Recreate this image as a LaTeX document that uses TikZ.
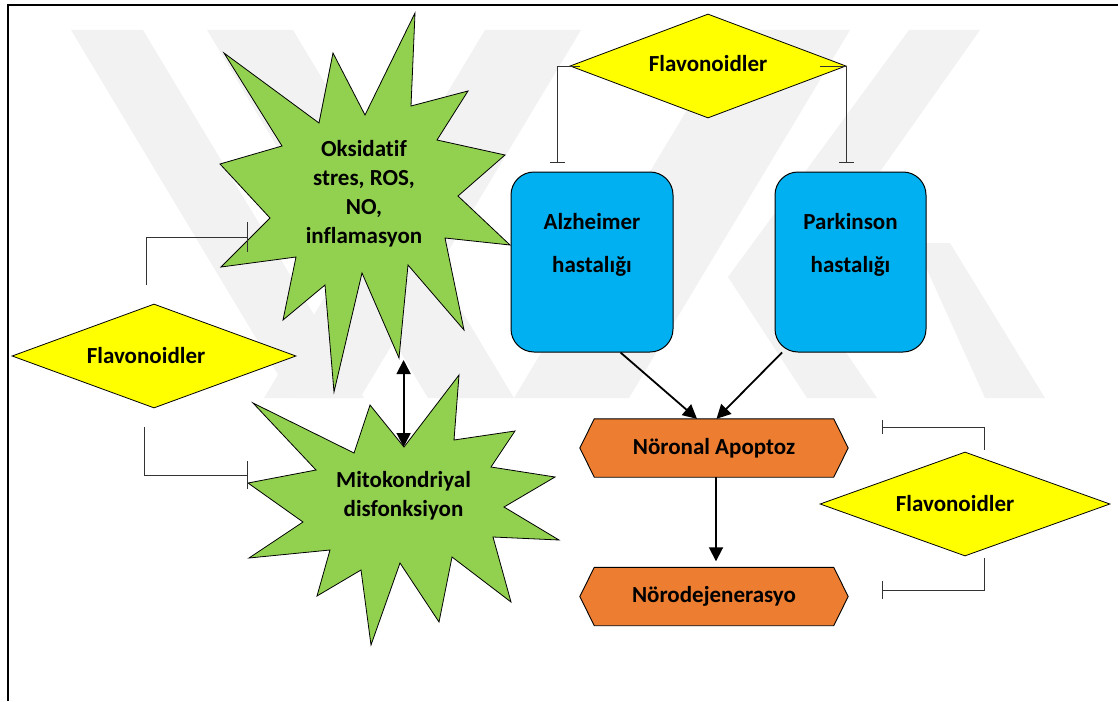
\documentclass[tikz,border=0pt]{standalone}
\usepackage{fontspec}
\setmainfont{Carlito}[Ligatures={NoCommon}]
\usetikzlibrary{shapes.geometric,arrows.meta,backgrounds,calc}
\definecolor{flavY}{HTML}{FFFF00}
\definecolor{starG}{HTML}{92D050}
\definecolor{boxB}{HTML}{00B0F0}
\definecolor{hexO}{HTML}{ED7D31}
\definecolor{wmark}{RGB}{242,242,242}
\tikzset{
  lbl/.style={font=\fontsize{23}{29}\selectfont\bfseries, align=center, inner sep=0pt},
  flav/.style={diamond, draw=black, line width=0.8pt, fill=flavY, inner sep=0pt},
  starsh/.style={draw=black, line width=0.8pt, fill=starG, line join=miter},
  dis/.style={rectangle, rounded corners=23pt, draw=black, line width=1pt, fill=boxB},
  hexbox/.style={rectangle, draw=none, minimum width=268pt, minimum height=58pt, inner sep=0pt},
  hexst/.style={draw=black, line width=0.9pt, fill=hexO},
  inh/.style={draw=black!80, line width=0.9pt, -{Bar[width=#1]}},
  arr/.style={draw=black, line width=1.8pt, -{Triangle[length=14pt,width=14pt]}},
  darr/.style={draw=black, line width=1.8pt, {Triangle[length=14pt,width=14pt]}-{Triangle[length=14pt,width=14pt]}}
}
\begin{document}
\begin{tikzpicture}[x=1pt,y=-1pt]
\useasboundingbox (0,0) rectangle (1118,701);
% watermark
\begin{scope}[on background layer]
  \fill[wmark] (71,30) -- (143,30) -- (364,398) -- (292,398) -- cycle;
  \fill[wmark] (485,30) -- (581,30) -- (360,398) -- (264,398) -- cycle;
  \fill[wmark] (207,30) -- (293,30) -- (514,398) -- (428,398) -- cycle;
  \fill[wmark] (735,30) -- (850,30) -- (629,398) -- (514,398) -- cycle;
  \fill[wmark] (909,30) -- (980,30) -- (800,285) -- (877,398) -- (807,398) -- (728,277) -- cycle;
  \fill[wmark] (915,243) -- (950,243) -- (1045,398) -- (985,398) -- cycle;
\end{scope}
% frame
\draw[line width=2pt] (7.5,701) -- (7.5,5) -- (1118,5);
% stars
\draw[starsh] (415,13) -- (411,106) -- (468,91) -- (437,140) -- (505,155) -- (458,196)
  -- (510,245) -- (445,238) -- (464,330) -- (408,265) -- (399,358) -- (362,273)
  -- (334,392) -- (325,285) -- (283,320) -- (296,257) -- (221,267) -- (270,218)
  -- (220,164) -- (282,146) -- (224,53) -- (319,123) -- (333,53) -- (365,115) -- cycle;
\draw[starsh] (459,375) -- (454,440) -- (515,431) -- (491,467) -- (555,477) -- (504,507)
  -- (559,540) -- (493,537) -- (511,602) -- (452,557) -- (439,622) -- (400,563)
  -- (371,645) -- (361,570) -- (317,596) -- (330,550) -- (249,558) -- (303,522)
  -- (248,483) -- (316,470) -- (253,403) -- (354,453) -- (370,405) -- (404,447) -- cycle;
\node[lbl] (oks) at (364,193.5) {Oksidatif\\stres, ROS,\\NO,\\inflamasyon};
\node[lbl] (mito) at (403.5,495.5) {Mitokondriyal\\disfonksiyon};
\coordinate (s1b) at (403.6,360);
\coordinate (s2t) at (403.6,447);
\coordinate (s1in) at (248,237);
\coordinate (s2in) at (248,475);
% diamonds
\node[flav, minimum width=276pt, minimum height=104pt,
  label={[lbl, yshift=2pt]center:Flavonoidler}] (dt) at (708,66) {};
\node[flav, minimum width=284pt, minimum height=104pt,
  label={[lbl, xshift=-8pt]center:Flavonoidler}] (dl) at (154,356) {};
\node[flav, minimum width=290pt, minimum height=104pt,
  label={[lbl, xshift=-10pt]center:Flavonoidler}] (dr) at (965,504) {};
% disease boxes
\node[dis, minimum width=162pt, minimum height=180pt,
  label={[lbl, font=\fontsize{23}{43}\selectfont\bfseries, yshift=17pt]center:Alzheimer\\hastalığı}] (alz) at (592,262) {};
\node[dis, minimum width=151pt, minimum height=180pt,
  label={[lbl, font=\fontsize{23}{43}\selectfont\bfseries, yshift=17pt]center:Parkinson\\hastalığı}] (park) at (850.5,262) {};
% hexagons
\node[hexbox, lbl] (apo) at (714,448) {Nöronal Apoptoz};
\node[hexbox, lbl] (nor) at (714,596.5) {Nörodejenerasyo};
\begin{scope}[on background layer]
  \foreach \n in {apo,nor}
    \draw[hexst] ([xshift=14.5pt]\n.north west) -- ([xshift=-14.5pt]\n.north east) -- (\n.east)
      -- ([xshift=-14.5pt]\n.south east) -- ([xshift=14.5pt]\n.south west) -- (\n.west) -- cycle;
\end{scope}
% arrows
\draw[darr] (s2t) -- (s1b);
\draw[arr] ([xshift=28.5pt]alz.south) -- ([xshift=-17pt]apo.north);
\draw[arr] ([xshift=-68.5pt]park.south) -- ([xshift=2.5pt]apo.north);
\draw[arr, shorten >=6pt] ([xshift=2pt]apo.south) -- ([xshift=2pt]nor.north);
% inhibitions
\coordinate (altop) at (557,163);
\coordinate (prtop) at (846,163);
\coordinate (rtb) at (882,427);
\coordinate (rbb) at (882,590);
\draw[inh=15pt] ([xshift=10pt]dt.west) -| (altop);
\draw[inh=15pt] ([xshift=-26pt]dt.east) -| (prtop);
\draw[inh=30pt] ([xshift=-8pt,yshift=19pt]dl.north) |- (s1in);
\draw[inh=28pt] ([xshift=-10pt,yshift=-19pt]dl.south) |- (s2in);
\draw[inh=14pt] ([xshift=19.5pt,yshift=2pt]dr.north) |- (rtb);
\draw[inh=18pt] ([xshift=19.5pt,yshift=-1.5pt]dr.south) |- (rbb);
\end{tikzpicture}
\end{document}
